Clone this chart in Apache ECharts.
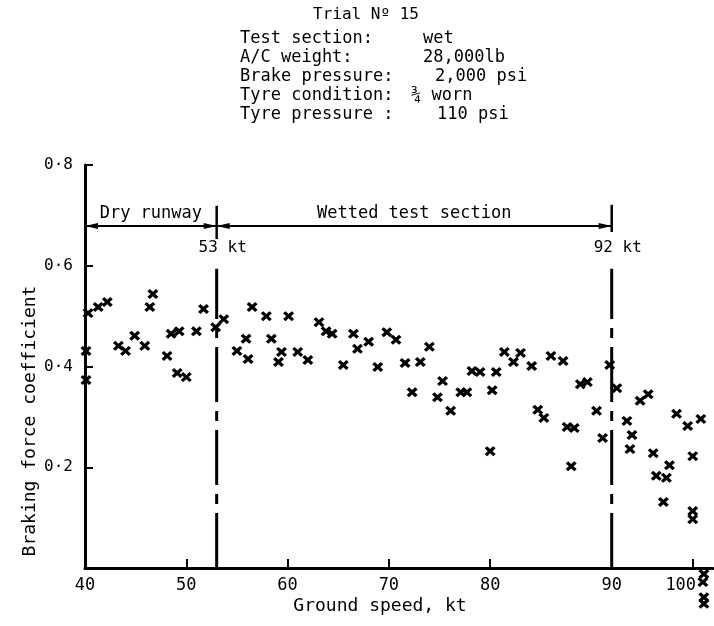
<!DOCTYPE html>
<html><head><meta charset="utf-8">
<script src="https://cdn.jsdelivr.net/npm/echarts@6/dist/echarts.min.js"></script>
<style>html,body{margin:0;background:#fff}#c{width:714px;height:626px}</style>
</head><body><div id="c"></div><script>
// Ground speed (kt) and braking force coefficient
const speedKt = [40.1,40.1,40.3,41.3,42.2,43.3,44.0,44.9,45.9,46.4,46.7,48.1,48.5,49.3,49.1,50.0,51.0,51.7,52.9,53.7,
  55.0,55.9,56.1,56.5,57.9,58.4,59.1,59.4,60.1,61.0,62.0,63.1,63.8,64.4,65.5,66.5,66.9,68.0,68.9,69.8,
  70.7,71.6,72.3,73.1,74.0,74.8,75.3,76.1,77.1,77.7,78.2,79.0,80.0,80.2,80.6,81.4,82.3,83.0,84.1,84.7,
  85.3,86.0,87.2,87.6,88.0,88.3,88.9,89.6,90.5,91.1,91.8,92.5,93.5,94.0,93.8,94.8,95.6,96.1,96.4,97.4,
  97.7,97.1,98.4,99.5,100.8,100.0,100.0,100.0,101.1,101.0,101.1,101.1];
const brakingCoef = [0.431,0.373,0.506,0.518,0.528,0.441,0.431,0.461,0.441,0.518,0.544,0.421,0.465,0.470,0.387,0.379,0.470,0.514,0.478,0.494,
  0.431,0.455,0.415,0.518,0.500,0.455,0.409,0.429,0.500,0.429,0.413,0.488,0.470,0.465,0.403,0.465,0.435,0.449,0.399,0.468,
  0.453,0.407,0.349,0.409,0.439,0.339,0.371,0.312,0.349,0.349,0.391,0.389,0.232,0.353,0.389,0.429,0.409,0.427,0.401,0.314,
  0.298,0.421,0.411,0.280,0.202,0.278,0.365,0.369,0.312,0.258,0.403,0.357,0.292,0.264,0.236,0.332,0.345,0.228,0.183,0.179,
  0.204,0.131,0.306,0.282,0.296,0.222,0.113,0.097,-0.012,-0.028,-0.058,-0.071];
const xTickValues = [40,50,60,70,80,92,100];
const xTickLabels = ['40','50','60','70','80','90','100'];
const yTickValues = [0.2,0.4,0.6,0.8];
const boundaries = [53, 92];
const boundaryLabels = ['53 kt','92 kt'];
const zoneLabels = ['Dry runway','Wetted test section'];
const titleText = 'Trial Nº 15';
const headerKeys = ['Test section:','A/C weight:','Brake pressure:','Tyre condition:','Tyre pressure :'];
const headerVals = ['wet','28,000lb','2,000 psi','¾ worn','110 psi'];
const xName = 'Ground speed, kt';
const yName = 'Braking force coefficient';

const FONT = 'DejaVu Sans Mono';
const INK = '#000';
const points = speedKt.map((s,i)=>[s, brakingCoef[i]]);
const crossPath = 'path://M0,2.2L2.2,0L5,2.8L7.8,0L10,2.2L7.2,5L10,7.8L7.8,10L5,7.2L2.2,10L0,7.8L2.8,5Z';

const valLeft = [423,423,435,411,437];
const rowTop = [30,49,68,87,106];
const titles = [{text:titleText,left:313,top:7,padding:0,textStyle:{fontFamily:FONT,fontSize:16,fontWeight:'normal',color:INK}}];
headerKeys.forEach((k,i)=>{
  titles.push({text:k,left:240,top:rowTop[i],padding:0,textStyle:{fontFamily:FONT,fontSize:17,fontWeight:'normal',color:INK}});
  titles.push({text:headerVals[i],left:valLeft[i],top:rowTop[i],padding:0,textStyle:{fontFamily:FONT,fontSize:17,fontWeight:'normal',color:INK}});
});

const arrowY = 0.679;
const series = [
  {type:'scatter', data:points, symbol:crossPath, symbolSize:[11,10], clip:false,
   itemStyle:{color:INK, opacity:1}, silent:true, z:5},
  ...boundaries.map(b=>({type:'line', data:[[b,0],[b,0.594]], symbol:'none', silent:true, clip:false,
     lineStyle:{color:INK,width:3,type:[55,9,10,9]}})),
  ...boundaries.map((b,i)=>({type:'line', data:[[b,i===0?0.719:0.721],[b,i===0?0.653:0.667]], symbol:'none', silent:true, clip:false,
     lineStyle:{color:INK,width:2.5}})),
  {type:'scatter', data:boundaries.map((b,i)=>({value:[b,0.635],name:boundaryLabels[i]})), symbolSize:0, silent:true, clip:false,
   itemStyle:{color:INK, opacity:1},
   label:{show:true, position:'inside', formatter:'{b}', offset:[6,0], color:INK, textBorderWidth:0, fontFamily:FONT, fontSize:16}},
  {type:'scatter', data:[], silent:true,
   markLine:{silent:true, animation:false, symbol:['triangle','triangle'], symbolSize:[6,13],
     symbolOffset:[[0,6.5],[0,6.5]],
     lineStyle:{color:INK,width:2,type:'solid'},
     label:{show:true, position:'middle', formatter:'{b}', color:INK, fontFamily:FONT, fontSize:17, distance:4},
     data:[
       [{coord:[40,arrowY], name:zoneLabels[0]},{coord:[boundaries[0],arrowY]}],
       [{coord:[boundaries[0],arrowY], name:zoneLabels[1]},{coord:[boundaries[1],arrowY]}]
     ]}}
];

const chart = echarts.init(document.getElementById('c'));
chart.setOption({
  backgroundColor:'#fff',
  animation:false,
  title:titles,
  grid:{left:85,right:1,top:165,bottom:58,containLabel:false},
  xAxis:{type:'value', min:40, max:102, interval:10,
    axisLine:{show:true,lineStyle:{color:INK,width:3}},
    axisTick:{show:true,inside:true,length:9,lineStyle:{color:INK,width:2},customValues:xTickValues.slice(1)},
    axisLabel:{color:INK,fontFamily:FONT,fontSize:17,margin:9,customValues:xTickValues,
      rich:{last:{fontFamily:FONT,fontSize:17,color:INK,padding:[0,24,0,0]}},
      formatter:v=>{const i=xTickValues.indexOf(v);if(i<0)return '';return i===xTickValues.length-1?'{last|'+xTickLabels[i]+'}':xTickLabels[i];}},
    splitLine:{show:false}},
  yAxis:{type:'value', min:0, max:0.8, interval:0.2,
    axisLine:{show:true,lineStyle:{color:INK,width:3}},
    axisTick:{show:true,inside:true,length:8,lineStyle:{color:INK,width:2},customValues:yTickValues},
    axisLabel:{color:INK,fontFamily:FONT,fontSize:16,margin:12,customValues:yTickValues,
      formatter:v=>v.toFixed(1).replace('.','·')},
    splitLine:{show:false}},
  graphic:[
    {type:'text', x:380, y:606, style:{text:xName, fill:INK, font:'18px "'+FONT+'"', align:'center', verticalAlign:'middle'}},
    {type:'text', x:30, y:421, rotation:Math.PI/2, style:{text:yName, fill:INK, font:'18px "'+FONT+'"', align:'center', verticalAlign:'middle'}}
  ],
  series:series
});
</script></body></html>
